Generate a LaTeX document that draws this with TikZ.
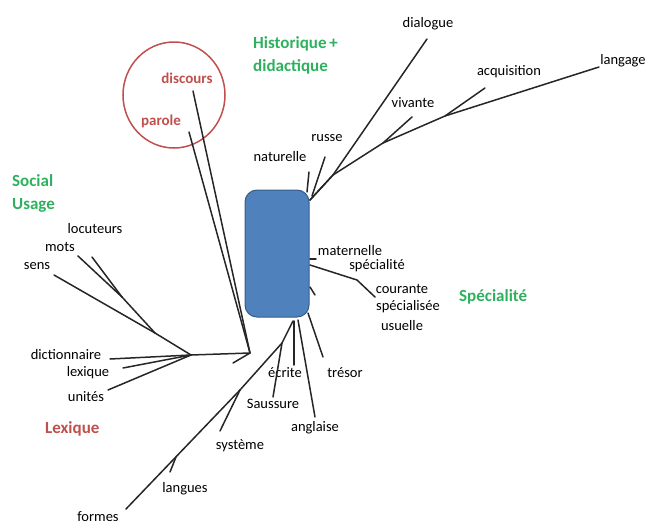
\documentclass[tikz,border=0pt]{standalone}
\usepackage{fontspec}
\setmainfont{Carlito}
\definecolor{boxblue}{HTML}{4F81BD}
\definecolor{boxedge}{HTML}{385D8A}
\definecolor{themegreen}{HTML}{2EB15E}
\definecolor{themered}{HTML}{C0504D}
\tikzset{
    word/.style={font=\fontsize{14.5}{16}\selectfont, inner sep=0pt},
    theme/.style={font=\fontsize{17}{23}\selectfont\bfseries, inner sep=0pt,
        align=left, text=themegreen},
    branch/.style={line width=1.5pt, black!85, line cap=round, line join=round},
}

\begin{document}
\begin{tikzpicture}[x=1pt, y=-1pt]
    \useasboundingbox (0, 0) rectangle (649, 525);
    % centre
    \node[draw=boxedge, fill=boxblue, line width=1pt, rounded corners=12pt,
        minimum width=64pt, minimum height=127pt] (centre) at (277, 253.5) {};
    \draw[themered, line width=1.5pt] (174, 95) ellipse (51 and 53);

    % hubs
    \coordinate (top) at (310, 200);
    \coordinate (split) at (333, 175);
    \coordinate (viv) at (383, 143);
    \coordinate (acq) at (445, 116);
    \coordinate (bot) at (293, 321);
    \coordinate (sau) at (282, 343);
    \coordinate (sys) at (240, 390);
    \coordinate (hub) at (250, 353);
    \coordinate (lex) at (191, 355);
    \coordinate (soc) at (155, 333);
    \coordinate (mot) at (122, 297);

    % labels
    \foreach \name/\pos/\txt in
        {naturelle/{(280, 157)}/naturelle, russe/{(327, 138)}/russe,
         dialogue/{(428, 24)}/dialogue, vivante/{(413, 103)}/vivante,
         acquisition/{(509, 72)}/acquisition, langage/{(623, 61)}/langage,
         maternelle/{(350, 251)}/maternelle, specialite/{(377, 266)}/spécialité,
         courante/{(402, 289)}/courante, specialisee/{(408, 307)}/spécialisée,
         usuelle/{(402, 326)}/usuelle, ecrite/{(285, 373)}/écrite,
         tresor/{(345, 373)}/trésor, saussure/{(273, 404)}/Saussure,
         anglaise/{(315, 428)}/anglaise, systeme/{(240, 446)}/système,
         langues/{(185, 489)}/langues, formes/{(98, 517)}/formes,
         dictionnaire/{(66, 355)}/dictionnaire, lexique/{(88, 373)}/lexique,
         unites/{(86, 397)}/unités, sens/{(37, 266)}/sens,
         mots/{(60, 247)}/mots, locuteurs/{(95, 229)}/locuteurs}{
        \node[word] (\name) at \pos {\txt};
    }
    \node[word, font=\fontsize{15}{16}\selectfont\bfseries, text=themered]
        (discours) at (187, 78) {discours};
    \node[word, font=\fontsize{15}{16}\selectfont\bfseries, text=themered]
        (parole) at (161, 121) {parole};

    \node[theme, anchor=west] (historique) at (253, 55) {Historique\,+\\didactique};
    \node[theme, anchor=west] (social) at (12, 193) {Social\\Usage};
    \node[theme, anchor=west] (speciale) at (459, 297) {Spécialité};
    \node[theme, text=themered, anchor=west] (lexiquet) at (45, 429) {Lexique};

    % ends of the branches
    \foreach \name/\x/\y in
        {eNat/309/172, eRus/325/157, eDia/427/39, eViv/412/117,
         eAcq/485/88, eLan/599/67, eMat/316/259, eSpe/375/297,
         eUsu/315/295, eEcr/294/365, eTre/323/357, eSau/273/397,
         eAng/315/417, eSys/220/431, eLgs/170/472, eFor/126/509,
         eDic/110/359, eLex/123/368, eUni/108/390, eSen/54/275,
         eMot/78/256, eLoc/92/257, eDis/193/91, ePar/189/132, eHub/233/363}{
        \coordinate (\name) at (\x, \y);
    }

    % top right
    \draw[branch] (307, 192) -- (eNat);
    \draw[branch] (312, 196) -- (eRus);
    \draw[branch] (top) -- (split) -- (eDia);
    \draw[branch] (top) -- (split) -- (viv) -- (acq) -- (eLan);
    \draw[branch] (viv) -- (eViv);
    \draw[branch] (acq) -- (eAcq);
    % right
    \draw[branch] (310, 259) -- (eMat);
    \draw[branch] (310, 265) -- (357, 280) -- (eSpe);
    \draw[branch] (310, 287) -- (eUsu);
    % bottom
    \draw[branch] (bot) -- (sau) -- (sys) -- (eFor);
    \draw[branch] (sau) -- (eSau);
    \draw[branch] (sys) -- (eSys);
    \draw[branch] (176, 457) -- (eLgs);
    \draw[branch] (294, 321) -- (eEcr);
    \draw[branch] (298, 320) -- (eAng);
    \draw[branch] (308, 313) -- (eTre);
    % left
    \draw[branch] (eDis) -- (hub);
    \draw[branch] (ePar) -- (hub);
    \draw[branch] (eHub) -- (hub);
    \draw[branch] (lex) -- (hub);
    \draw[branch] (soc) -- (lex);
    \draw[branch] (eSen) -- (soc);
    \draw[branch] (eMot) -- (mot);
    \draw[branch] (eLoc) -- (mot);
    \draw[branch] (mot) -- (soc);
    \draw[branch] (eDic) -- (lex);
    \draw[branch] (eLex) -- (lex);
    \draw[branch] (eUni) -- (lex);
\end{tikzpicture}
\end{document}
